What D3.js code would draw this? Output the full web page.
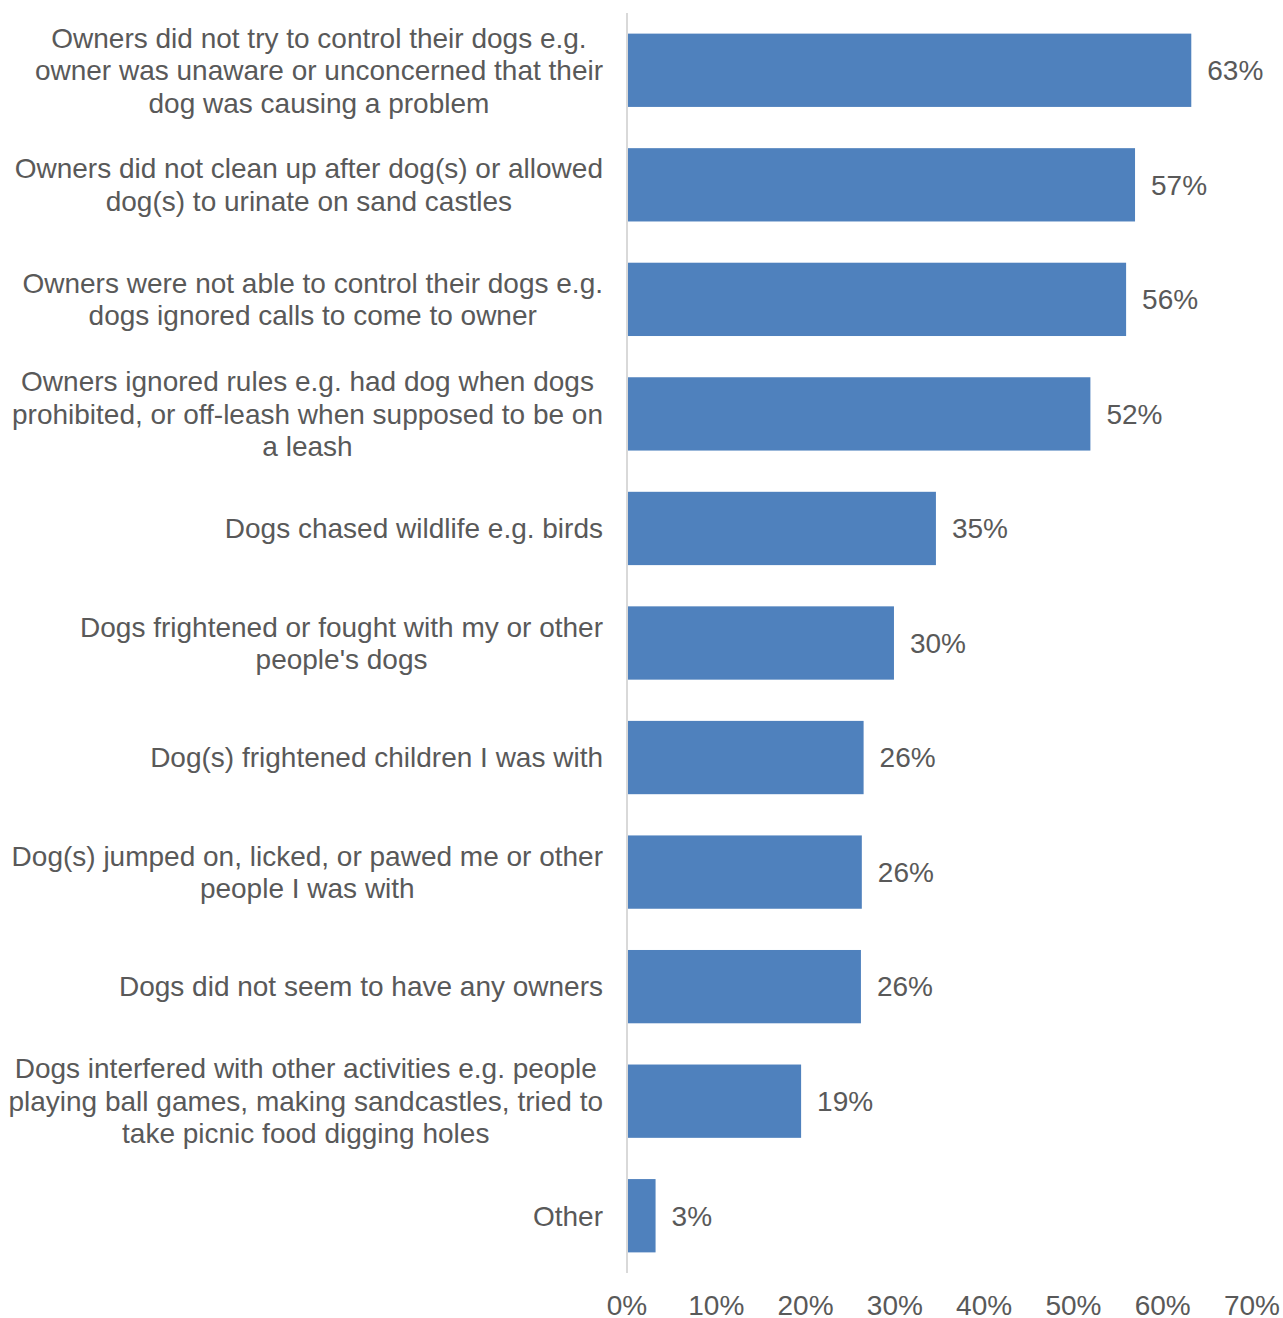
<!DOCTYPE html>
<html>
<head>
<meta charset="utf-8">
<script src="https://cdn.jsdelivr.net/npm/d3@7"></script>
<style>
  body { margin: 0; background: #fff; }
  text { font-family: "Liberation Sans", Arial, sans-serif; fill: #595959; }
</style>
</head>
<body>
<div id="chart"></div>
<script>
// category labels, already split into lines like the original
const categories = [
  ["Owners did not try to control their dogs e.g.", "owner was unaware or unconcerned that their", "dog was causing a problem"],
  ["Owners did not clean up after dog(s) or allowed", "dog(s) to urinate on sand castles"],
  ["Owners were not able to control their dogs e.g.", "dogs ignored calls to come to owner"],
  ["Owners ignored rules e.g. had dog when dogs", "prohibited, or off-leash when supposed to be on", "a leash"],
  ["Dogs chased wildlife e.g. birds"],
  ["Dogs frightened or fought with my or other", "people's dogs"],
  ["Dog(s) frightened children I was with"],
  ["Dog(s) jumped on, licked, or pawed me or other", "people I was with"],
  ["Dogs did not seem to have any owners"],
  ["Dogs interfered with other activities e.g. people", "playing ball games, making sandcastles, tried to", "take picnic food digging holes"],
  ["Other"]
];
const values = [63.2, 56.9, 55.9, 51.9, 34.6, 29.9, 26.5, 26.3, 26.2, 19.5, 3.2];
const valueLabels = ["63%", "57%", "56%", "52%", "35%", "30%", "26%", "26%", "26%", "19%", "3%"];
const xTicks = [0, 10, 20, 30, 40, 50, 60, 70];

const width = 1283;
const height = 1318;
const margin = { top: 13, right: 31, bottom: 45, left: 627 };
const fontSize = 28;
const lineH = 32.5;

const svg = d3
  .select("#chart")
  .append("svg")
  .attr("width", width)
  .attr("height", height);

const x = d3
  .scaleLinear()
  .domain([0, 70])
  .range([margin.left, width - margin.right]);

const y = d3
  .scaleBand()
  .domain(d3.range(categories.length))
  .range([margin.top, height - margin.bottom])
  .paddingInner(0.36)
  .paddingOuter(0.18);

// bars
svg
  .selectAll("rect.bar")
  .data(values)
  .enter()
  .append("rect")
  .attr("class", "bar")
  .attr("x", x(0))
  .attr("y", (d, i) => y(i))
  .attr("width", (d) => x(d) - x(0))
  .attr("height", y.bandwidth())
  .attr("fill", "#4f81bd");

// vertical axis line
svg
  .append("line")
  .attr("x1", x(0))
  .attr("x2", x(0))
  .attr("y1", margin.top)
  .attr("y2", height - margin.bottom)
  .attr("stroke", "#d9d9d9")
  .attr("stroke-width", 2);

// value labels
svg
  .selectAll("text.val")
  .data(values)
  .enter()
  .append("text")
  .attr("class", "val")
  .attr("x", (d) => x(d) + 16)
  .attr("y", (d, i) => y(i) + y.bandwidth() / 2)
  .attr("dy", "0.35em")
  .style("font-size", fontSize + "px")
  .text((d, i) => valueLabels[i]);

// category labels
const labels = svg
  .selectAll("text.cat")
  .data(categories)
  .enter()
  .append("text")
  .attr("class", "cat")
  .attr("text-anchor", "middle")
  .style("font-size", fontSize + "px");

labels.each(function (lines, i) {
  const cy = y(i) + y.bandwidth() / 2;
  const t = d3.select(this);
  const spans = t
    .selectAll("tspan")
    .data(lines)
    .enter()
    .append("tspan")
    .attr("y", (d, j) => cy + (j - (lines.length - 1) / 2) * lineH)
    .attr("dy", "0.35em")
    .text((d) => d);
  // center the lines on each other, widest line ends next to the axis
  let maxW = 0;
  spans.each(function () {
    maxW = Math.max(maxW, this.getComputedTextLength());
  });
  spans.attr("x", x(0) - 24 - maxW / 2);
});

// x axis tick labels
svg
  .selectAll("text.tick")
  .data(xTicks)
  .enter()
  .append("text")
  .attr("class", "tick")
  .attr("x", (d) => x(d))
  .attr("y", 1305)
  .attr("dy", "0.35em")
  .attr("text-anchor", "middle")
  .style("font-size", fontSize + "px")
  .text((d) => d + "%");
</script>
</body>
</html>
